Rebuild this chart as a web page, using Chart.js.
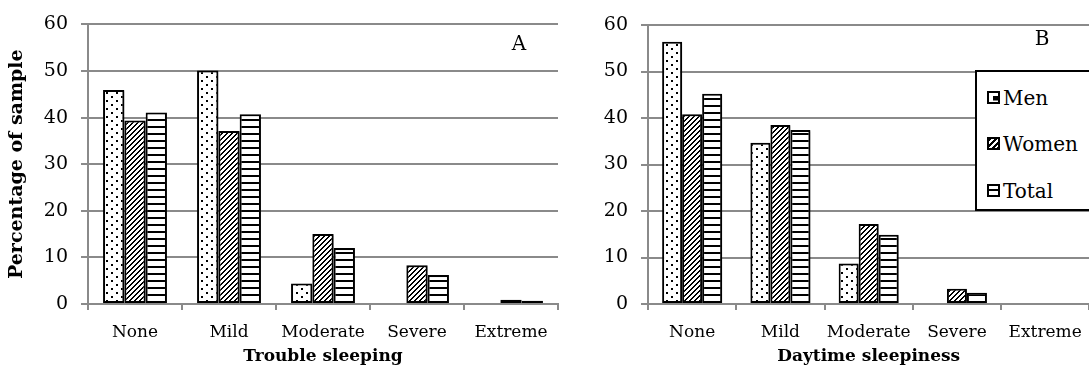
<!DOCTYPE html>
<html><head><meta charset="utf-8">
<script src="https://cdn.jsdelivr.net/npm/chart.js@4.4.1/dist/chart.umd.min.js"></script>
<style>
html,body{margin:0;padding:0;background:#fff;overflow:hidden;width:1089px;height:370px;}
#c1{position:absolute;left:0;top:0;width:560px;height:370px;}
#c2{position:absolute;left:560px;top:0;width:534px;height:370px;}
#legend{position:absolute;left:975px;top:70px;width:130px;height:137px;border:2px solid #000;background:#fff;font-family:"DejaVu Serif",serif;font-size:20px;color:#000;}
.li{position:absolute;left:10px;height:24px;line-height:24px;}
.ic{display:inline-block;width:9px;height:9px;border:2px solid #000;vertical-align:middle;margin-right:3px;position:relative;top:-2px;}
</style></head>
<body>
<div id="c1"><canvas id="k1"></canvas></div>
<div id="c2"><canvas id="k2"></canvas></div>
<div id="legend">
 <div class="li" style="top:14px"><span class="ic" style="background:linear-gradient(to right,#fff 0,#fff 40%,#000 40%,#000 100%);background-size:100% 50%;background-repeat:no-repeat;background-position:0 60%;"></span>Men</div>
 <div class="li" style="top:60px"><span class="ic" style="background:repeating-linear-gradient(135deg,#000 0 2px,#fff 2px 4px);"></span>Women</div>
 <div class="li" style="top:107px"><span class="ic" style="background:linear-gradient(#fff 0,#fff 30%,#000 30%,#000 60%,#fff 60%);"></span>Total</div>
</div>
<script>
const categories = ['None','Mild','Moderate','Severe','Extreme'];
const seriesNames = ['Men','Women','Total'];
const sleepMen   = [45.9, 50.1, 4.4, 0, 0];
const sleepWomen = [39.4, 37.1, 15.0, 8.3, 0.9];
const sleepTotal = [41.1, 40.7, 12.0, 6.2, 0.7];
const dayMen     = [56.4, 34.7, 8.7, 0, 0];
const dayWomen   = [40.8, 38.5, 17.2, 3.3, 0];
const dayTotal   = [45.2, 37.4, 14.9, 2.4, 0];
const yTicks = [0,10,20,30,40,50,60];

function makePattern(kind){
  const c=document.createElement('canvas');
  let w=8,h=8;
  if(kind==='dots'){w=10;h=8;}
  if(kind==='hatch'){w=5;h=5;}
  if(kind==='lines'){w=8;h=7;}
  c.width=w;c.height=h;
  const x=c.getContext('2d');
  x.fillStyle='#fff';x.fillRect(0,0,w,h);
  x.fillStyle='#000';
  if(kind==='dots'){x.fillRect(1,0,2,2);x.fillRect(6,4,2,2);}
  if(kind==='hatch'){for(let i=0;i<5;i++){x.fillRect((4-i+5)%5,i,2,1);if(4-i+1>=5)x.fillRect(0,i,1,1);}}
  if(kind==='lines'){x.fillRect(0,0,w,2);}
  return x.createPattern(c,'repeat');
}
const pats=[makePattern('dots'),makePattern('hatch'),makePattern('lines')];

const shadowPlugin={id:'shadow',
  beforeDatasetsDraw(ch){const c=ch.ctx;c.save();c.shadowColor='rgba(0,0,0,0.35)';c.shadowOffsetX=2;c.shadowOffsetY=1;c.shadowBlur=2;},
  afterDatasetsDraw(ch){ch.ctx.restore();}
};
function letterPlugin(txt,x,y){return {id:'letter'+txt,afterDraw(ch){const c=ch.ctx;c.save();c.font='20px "DejaVu Serif", serif';c.fillStyle='#000';c.textAlign='center';c.textBaseline='middle';c.fillText(txt,x,y);c.restore();}};}

function build(id,data,xTitle,yTitle,top,letter){
  const ds=data.map((d,i)=>({label:seriesNames[i],data:d,backgroundColor:pats[i],borderColor:'#000',borderWidth:2,borderSkipped:false,categoryPercentage:0.68,barPercentage:1}));
  return new Chart(document.getElementById(id),{
    type:'bar',
    data:{labels:categories,datasets:ds},
    plugins:[shadowPlugin,letter],
    options:{
      responsive:true,maintainAspectRatio:false,animation:false,
      layout:{padding:{top:top,right:2,left:0,bottom:0}},
      plugins:{legend:{display:false},tooltip:{enabled:false}},
      scales:{
        x:{
          grid:{drawOnChartArea:false,drawTicks:true,tickLength:6,color:'#8a8a8a',lineWidth:2},
          border:{display:true,color:'#8a8a8a',width:2},
          ticks:{color:'#000',font:{family:'"DejaVu Serif", serif',size:17},padding:12,maxRotation:0,minRotation:0,autoSkip:false},
          title:{display:true,text:xTitle,color:'#000',font:{family:'"DejaVu Serif", serif',size:17,weight:'bold'},padding:{top:0,bottom:3}},
          afterFit(s){s.height=66;}
        },
        y:{
          min:0,max:60,
          afterBuildTicks(s){s.ticks=yTicks.map(v=>({value:v}));},
          grid:{color:'#8a8a8a',lineWidth:2,tickLength:7},
          border:{display:true,color:'#8a8a8a',width:2},
          ticks:{color:'#000',font:{family:'"DejaVu Serif", serif',size:19},padding:13},
          title:{display:!!yTitle,text:yTitle||'',color:'#000',font:{family:'"DejaVu Serif", serif',size:19,weight:'bold'},padding:{top:6,bottom:0}},
          afterFit(s){s.width=88;}
        }
      }
    }
  });
}
build('k1',[sleepMen,sleepWomen,sleepTotal],'Trouble sleeping','Percentage of sample',15,letterPlugin('A',519,45));
build('k2',[dayMen,dayWomen,dayTotal],'Daytime sleepiness',null,25,letterPlugin('B',482,40));
</script>
</body></html>
